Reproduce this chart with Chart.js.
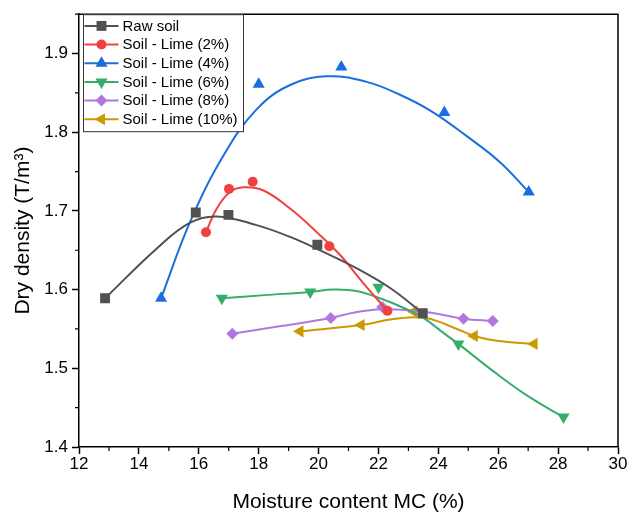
<!DOCTYPE html>
<html>
<head>
<meta charset="utf-8">
<title>Dry density vs moisture content</title>
<script src="https://cdn.jsdelivr.net/npm/chart.js@4.4.1/dist/chart.umd.min.js"></script>
<style>
  html, body { margin: 0; padding: 0; background: #fff; }
  canvas { display: block; }
</style>
</head>
<body>
<canvas id="chart" width="633" height="517"></canvas>
<script>
// measured compaction points (moisture %, dry density T/m3)
const rawX = [12.87, 15.90, 16.99, 19.96, 23.48];
const rawY = [1.589, 1.698, 1.695, 1.657, 1.570];
const lime2X = [16.24, 17.01, 17.80, 20.36, 22.30];
const lime2Y = [1.673, 1.728, 1.737, 1.655, 1.573];
const lime4X = [14.74, 18.00, 20.76, 24.20, 27.02];
const lime4Y = [1.589, 1.861, 1.883, 1.825, 1.724];
const lime6X = [16.77, 19.72, 22.00, 24.67, 28.18];
const lime6Y = [1.589, 1.597, 1.603, 1.531, 1.438];
const lime8X = [17.12, 20.41, 22.13, 24.84, 25.82];
const lime8Y = [1.544, 1.564, 1.578, 1.563, 1.560];
const lime10X = [19.38, 21.42, 23.19, 25.20, 27.20];
const lime10Y = [1.547, 1.555, 1.572, 1.541, 1.531];

// smoothed fit curves
const rawFitX = [12.87, 14.59, 15.71, 16.60, 17.93, 19.05, 20.16, 21.28, 22.39, 23.48];
const rawFitY = [1.589, 1.652, 1.685, 1.693, 1.682, 1.667, 1.648, 1.627, 1.602, 1.570];
const lime2FitX = [16.24, 16.60, 17.04, 17.49, 18.16, 19.05, 19.94, 20.72, 21.50, 22.30];
const lime2FitY = [1.673, 1.703, 1.724, 1.730, 1.726, 1.703, 1.673, 1.644, 1.608, 1.573];
const lime4FitX = [14.74, 15.71, 16.82, 17.93, 19.05, 20.30, 21.60, 22.70, 23.80, 24.95, 26.06, 27.02];
const lime4FitY = [1.589, 1.686, 1.770, 1.829, 1.860, 1.871, 1.864, 1.848, 1.826, 1.795, 1.762, 1.724];
const lime6FitX = [16.77, 18.20, 19.72, 20.50, 21.30, 22.05, 22.83, 23.50, 24.17, 24.67, 25.95, 27.06, 28.18];
const lime6FitY = [1.589, 1.593, 1.597, 1.600, 1.598, 1.589, 1.577, 1.564, 1.545, 1.531, 1.493, 1.463, 1.438];
const lime8FitX = [17.12, 18.80, 20.41, 21.20, 22.13, 23.17, 24.00, 24.84, 25.82];
const lime8FitY = [1.544, 1.554, 1.564, 1.571, 1.575, 1.573, 1.569, 1.563, 1.560];
const lime10FitX = [19.38, 21.42, 22.39, 23.17, 23.72, 24.62, 25.20, 25.95, 27.20];
const lime10FitY = [1.547, 1.555, 1.562, 1.565, 1.563, 1.550, 1.541, 1.535, 1.531];

const seriesNames = ['Raw soil', 'Soil - Lime (2%)', 'Soil - Lime (4%)', 'Soil - Lime (6%)', 'Soil - Lime (8%)', 'Soil - Lime (10%)'];
const xTicks = [12, 14, 16, 18, 20, 22, 24, 26, 28, 30];
const yTicks = [1.4, 1.5, 1.6, 1.7, 1.8, 1.9];

const FONT = "Arial, 'Liberation Sans', sans-serif";

const styles = [
  { color: '#515151', pointStyle: 'rect', radius: 7, rotation: 0 },
  { color: '#F14040', pointStyle: 'circle', radius: 5, rotation: 0 },
  { color: '#1A6FDF', pointStyle: 'triangle', radius: 7, rotation: 0 },
  { color: '#37AD6B', pointStyle: 'triangle', radius: 7, rotation: 180 },
  { color: '#B177DE', pointStyle: 'rectRot', radius: 6, rotation: 0 },
  { color: '#CC9900', pointStyle: 'triangle', radius: 7, rotation: 270 }
];

const measured = [[rawX, rawY], [lime2X, lime2Y], [lime4X, lime4Y], [lime6X, lime6Y], [lime8X, lime8Y], [lime10X, lime10Y]];
const fits = [[rawFitX, rawFitY], [lime2FitX, lime2FitY], [lime4FitX, lime4FitY], [lime6FitX, lime6FitY], [lime8FitX, lime8FitY], [lime10FitX, lime10FitY]];

function pts(xs, ys) {
  return xs.map((x, i) => ({ x: x, y: ys[i] }));
}

let datasets = [];
seriesNames.forEach((name, i) => {
  let st = styles[i];
  datasets.push({
    label: name + ' fit',
    data: pts(fits[i][0], fits[i][1]),
    showLine: true,
    borderColor: st.color,
    borderWidth: 2,
    pointRadius: 0,
    tension: 0.4,
    fill: false
  });
  datasets.push({
    label: name,
    data: pts(measured[i][0], measured[i][1]),
    showLine: false,
    pointStyle: st.pointStyle,
    pointRadius: st.radius,
    pointRotation: st.rotation,
    backgroundColor: st.color,
    borderColor: st.color,
    borderWidth: 0
  });
});

// frame, minor ticks and the boxed legend in the upper-left corner
const extras = {
  id: 'extras',
  afterDraw(chart) {
    const ctx = chart.ctx;
    const a = chart.chartArea;
    const xs = chart.scales.x, ys = chart.scales.y;
    ctx.save();
    ctx.strokeStyle = '#000';
    ctx.lineWidth = 1.5;
    ctx.beginPath();
    ctx.moveTo(a.left, a.top);
    ctx.lineTo(a.right, a.top);
    ctx.lineTo(a.right, a.bottom);
    ctx.stroke();

    ctx.lineWidth = 1.2;
    ctx.beginPath();
    for (let v = 13; v < 30; v += 2) {
      const px = xs.getPixelForValue(v);
      ctx.moveTo(px, a.bottom);
      ctx.lineTo(px, a.bottom + 4);
    }
    for (let k = 0; k < 6; k++) {
      const py = ys.getPixelForValue(1.45 + k * 0.1);
      ctx.moveTo(a.left, py);
      ctx.lineTo(a.left - 4, py);
    }
    ctx.stroke();

    // legend
    const bx = a.left + 4.5, by = a.top + 0.5, bw = 160, bh = 117;
    ctx.fillStyle = '#fff';
    ctx.fillRect(bx, by, bw, bh);
    ctx.lineWidth = 1;
    ctx.strokeStyle = '#333';
    ctx.strokeRect(bx, by, bw, bh);
    ctx.font = '15px ' + FONT;
    ctx.textBaseline = 'middle';
    seriesNames.forEach((name, i) => {
      const st = styles[i];
      const y = a.top + 11.7 + i * 18.67;
      ctx.strokeStyle = st.color;
      ctx.lineWidth = 2;
      ctx.beginPath();
      ctx.moveTo(bx + 1, y);
      ctx.lineTo(bx + 35, y);
      ctx.stroke();
      ctx.fillStyle = st.color;
      Chart.helpers.drawPoint(ctx, { pointStyle: st.pointStyle, radius: st.radius, rotation: st.rotation, borderWidth: 0 }, bx + 18, y);
      ctx.fillStyle = '#000';
      ctx.fillText(name, bx + 39, y + 0.5);
    });
    ctx.restore();
  }
};

new Chart(document.getElementById('chart').getContext('2d'), {
  type: 'line',
  data: { datasets: datasets },
  options: {
    responsive: false,
    animation: false,
    layout: { padding: { left: 0, top: 12, right: 15, bottom: 0 } },
    plugins: {
      legend: { display: false },
      tooltip: { enabled: false }
    },
    scales: {
      x: {
        type: 'linear',
        min: xTicks[0],
        max: xTicks[xTicks.length - 1],
        afterBuildTicks: (scale) => { scale.ticks = xTicks.map(v => ({ value: v })); },
        afterFit: (scale) => { scale.height = 70; },
        border: { display: true, color: '#000', width: 1.5 },
        grid: { drawOnChartArea: false, drawTicks: true, tickLength: 7, tickColor: '#000', tickWidth: 1.5 },
        ticks: { color: '#000', font: { family: FONT, size: 17 }, padding: 0, maxRotation: 0 },
        title: {
          display: true,
          text: 'Moisture content MC (%)',
          color: '#000',
          font: { family: FONT, size: 21 },
          padding: { top: 0, bottom: 2 }
        }
      },
      y: {
        type: 'linear',
        min: 1.4,
        max: 1.95,
        afterBuildTicks: (scale) => { scale.ticks = yTicks.map(v => ({ value: v })); },
        afterFit: (scale) => { scale.width = 79; },
        border: { display: true, color: '#000', width: 1.5 },
        grid: { drawOnChartArea: false, drawTicks: true, tickLength: 7, tickColor: '#000', tickWidth: 1.5 },
        ticks: {
          color: '#000',
          font: { family: FONT, size: 17 },
          padding: 4,
          callback: (v) => v.toFixed(1)
        },
        title: {
          display: true,
          text: 'Dry density (T/m³)',
          color: '#000',
          font: { family: FONT, size: 21 },
          padding: { top: 11, bottom: 0 }
        }
      }
    }
  },
  plugins: [extras]
});
</script>
</body>
</html>
